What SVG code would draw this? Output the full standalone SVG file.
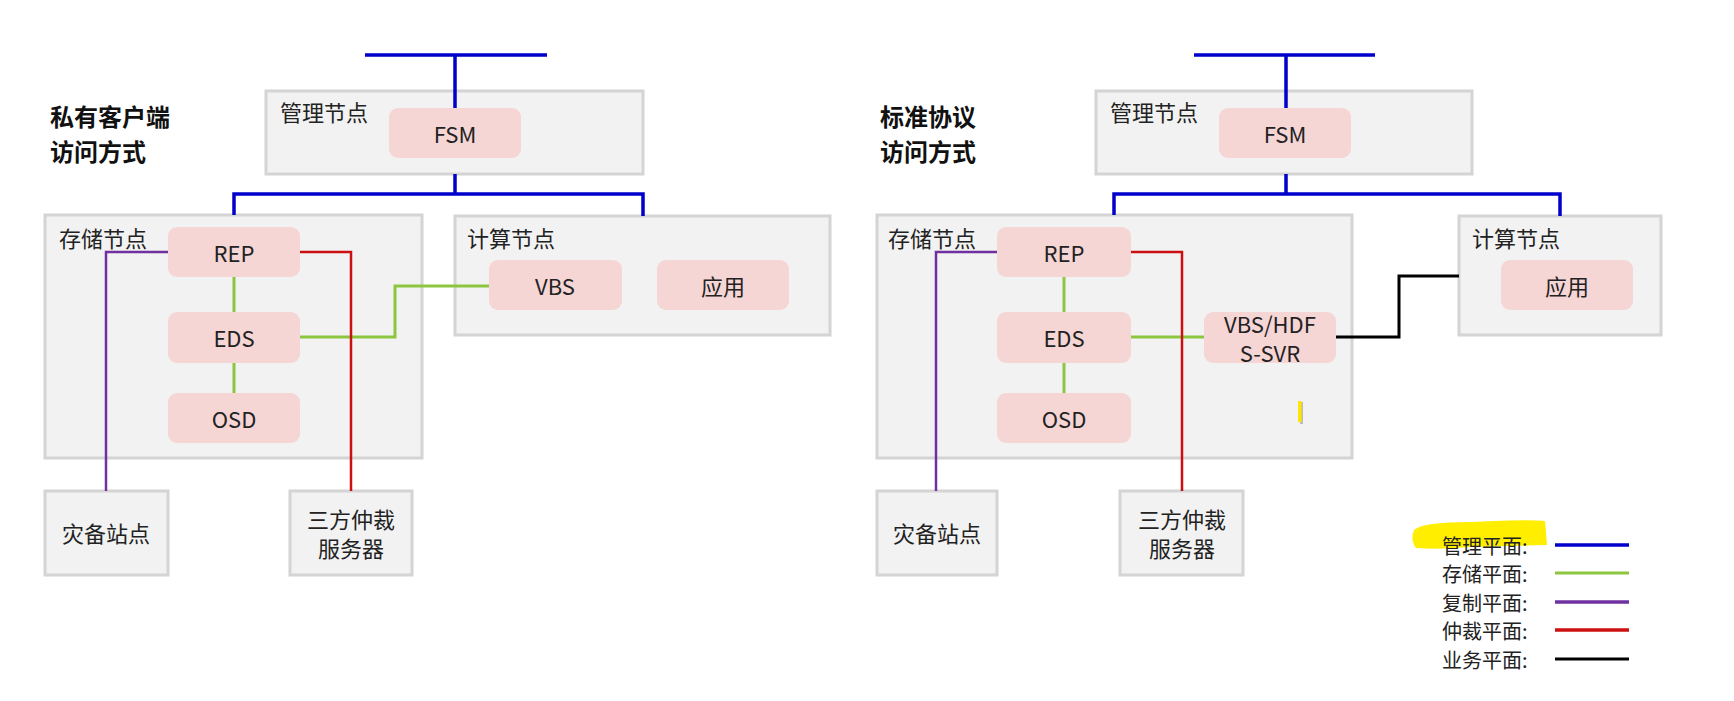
<svg xmlns="http://www.w3.org/2000/svg" width="1734" height="701" viewBox="0 0 1734 701">
<style>
text{font-family:"Noto Sans CJK SC","Noto Sans",sans-serif;font-size:22px;fill:#222;dominant-baseline:central}
.c{text-anchor:middle}
.title{font-size:24px;font-weight:bold;fill:#111}
.lg{font-size:20px}
.box{fill:#f2f2f2;stroke:#d4d4d4;stroke-width:3}
.node{fill:#f6d5d5}
.ln{fill:none;stroke-linejoin:miter}
.mg{stroke:#0000cc;stroke-width:3.5}
.st{stroke:#8cc63f;stroke-width:3}
.rp{stroke:#7030a0;stroke-width:2.5}
.ab{stroke:#cc1010;stroke-width:2.5}
.bz{stroke:#000;stroke-width:3}
</style>
<rect width="1734" height="701" fill="#fff"/>

<text class="title" x="50" y="115">私有客户端</text>
<text class="title" x="50" y="150">访问方式</text>
<text class="title" x="880" y="115">标准协议</text>
<text class="title" x="880" y="150">访问方式</text>

<g id="mgmt-left"><rect class="box" x="266" y="91" width="377" height="83"/><text x="280" y="111">管理节点</text></g>
<g id="storage-left"><rect class="box" x="45" y="215" width="377" height="243"/><text x="59" y="237">存储节点</text></g>
<g id="compute-left"><rect class="box" x="455" y="216" width="375" height="119"/><text x="467" y="237">计算节点</text></g>
<g id="dr-left"><rect class="box" x="45" y="491" width="123" height="84"/><text class="c" x="106" y="532">灾备站点</text></g>
<g id="arb-left"><rect class="box" x="290" y="491" width="122" height="84"/><text class="c" x="351" y="518">三方仲裁</text><text class="c" x="351" y="547">服务器</text></g>

<g id="mgmt-right"><rect class="box" x="1096" y="91" width="376" height="83"/><text x="1110" y="111">管理节点</text></g>
<g id="storage-right"><rect class="box" x="877" y="215" width="475" height="243"/><text x="888" y="237">存储节点</text></g>
<g id="compute-right"><rect class="box" x="1459" y="216" width="202" height="119"/><text x="1472" y="237">计算节点</text></g>
<g id="dr-right"><rect class="box" x="877" y="491" width="120" height="84"/><text class="c" x="937" y="532">灾备站点</text></g>
<g id="arb-right"><rect class="box" x="1120" y="491" width="123" height="84"/><text class="c" x="1182" y="518">三方仲裁</text><text class="c" x="1182" y="547">服务器</text></g>

<g id="connectors">
<path class="ln mg" d="M365 55H547M455 55V108M455 174V194M234 215V194H643V216"/>
<path class="ln mg" d="M1194 55H1375M1286 55V108M1286 174V194M1114 215V194H1560V216"/>
<path class="ln st" d="M234 277V312M234 363V393M300 337H395V286H489"/>
<path class="ln st" d="M1064 277V312M1064 363V393M1131 337H1204"/>
<path class="ln rp" d="M168 252H106V491"/>
<path class="ln rp" d="M997 252H936V491"/>
<path class="ln ab" d="M300 252H351V491"/>
<path class="ln ab" d="M1131 252H1182V491"/>
<path class="ln bz" d="M1336 337H1399V276H1459"/>
</g>

<g id="fsm-left"><rect class="node" x="389" y="108" width="132" height="50" rx="9"/><text class="c" x="455" y="133">FSM</text></g>
<g id="rep-left"><rect class="node" x="168" y="227" width="132" height="50" rx="9"/><text class="c" x="234" y="252">REP</text></g>
<g id="eds-left"><rect class="node" x="168" y="312" width="132" height="51" rx="9"/><text class="c" x="234" y="337">EDS</text></g>
<g id="osd-left"><rect class="node" x="168" y="393" width="132" height="50" rx="9"/><text class="c" x="234" y="418">OSD</text></g>
<g id="vbs-left"><rect class="node" x="489" y="260" width="133" height="50" rx="9"/><text class="c" x="555" y="285">VBS</text></g>
<g id="app-left"><rect class="node" x="657" y="260" width="132" height="50" rx="9"/><text class="c" x="723" y="285">应用</text></g>

<g id="fsm-right"><rect class="node" x="1219" y="108" width="132" height="50" rx="9"/><text class="c" x="1285" y="133">FSM</text></g>
<g id="rep-right"><rect class="node" x="997" y="227" width="134" height="50" rx="9"/><text class="c" x="1064" y="252">REP</text></g>
<g id="eds-right"><rect class="node" x="997" y="312" width="134" height="51" rx="9"/><text class="c" x="1064" y="337">EDS</text></g>
<g id="osd-right"><rect class="node" x="997" y="393" width="134" height="50" rx="9"/><text class="c" x="1064" y="418">OSD</text></g>
<g id="vbshdf-right"><rect class="node" x="1204" y="312" width="132" height="51" rx="9"/><text class="c" x="1270" y="323">VBS/HDF</text><text class="c" x="1270" y="352">S-SVR</text></g>
<g id="app-right"><rect class="node" x="1501" y="260" width="132" height="50" rx="9"/><text class="c" x="1567" y="285">应用</text></g>

<rect x="1300" y="402" width="3" height="22" fill="#bbb"/>
<rect x="1298" y="401" width="3.5" height="21" fill="#ffe600"/>

<g id="legend">
<path d="M1414 530 Q1422 522 1470 522 Q1530 519 1545 521 L1547 545 L1470 547 Q1440 550 1416 548 Q1410 540 1414 530Z" fill="#ffee00"/>
<text class="lg" x="1442" y="545">管理平面:</text>
<text class="lg" x="1442" y="573">存储平面:</text>
<text class="lg" x="1442" y="602">复制平面:</text>
<text class="lg" x="1442" y="630">仲裁平面:</text>
<text class="lg" x="1442" y="659">业务平面:</text>
<path class="ln mg" d="M1555 545H1629"/>
<path class="ln st" d="M1555 573H1629"/>
<path class="ln rp" d="M1555 602H1629" style="stroke-width:3.5"/>
<path class="ln ab" d="M1555 630H1629" style="stroke-width:3.5"/>
<path class="ln bz" d="M1555 659H1629"/>
</g>
</svg>
